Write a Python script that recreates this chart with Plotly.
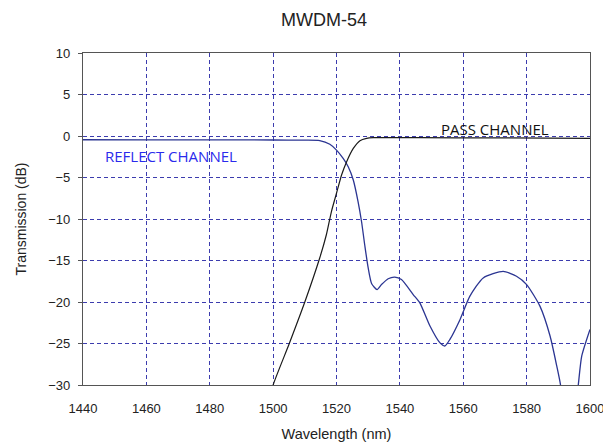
import plotly.graph_objects as go

# ---- data ----
wl_reflect = [1440, 1460, 1480, 1500, 1510, 1514.7, 1517.9, 1520, 1522.1, 1523.7, 1525.3,
              1526.8, 1527.9, 1528.9, 1530, 1531.1, 1532.8, 1534.2, 1536.3, 1538.4,
              1540.5, 1544.2, 1546.3, 1549.5, 1552.6, 1554.2, 1555.8, 1559, 1562.1,
              1566.3, 1572.6, 1576.8, 1580, 1584.2, 1587.4, 1589.5, 1590.7, 1593.5,
              1596.3, 1597.4, 1600]
reflect_db = [-0.45, -0.46, -0.47, -0.48, -0.5, -0.55, -1.0, -1.7, -2.7, -3.7, -5.3,
              -7.9, -10.3, -13.1, -15.9, -17.8, -18.5, -17.9, -17.2, -17.0,
              -17.3, -19.1, -20.1, -22.9, -24.9, -25.3, -24.5, -22.1, -19.3,
              -17.1, -16.3, -16.9, -17.9, -20.5, -24.1, -27.7, -30.0, -40.0,
              -30.0, -26.5, -23.3]

wl_pass = [1499.5, 1500, 1505.1, 1510, 1514.7, 1516.8, 1518.4, 1520, 1521.6, 1523.2,
           1525.3, 1527.4, 1529.5, 1531.6, 1546.3, 1570, 1600]
pass_db = [-31.0, -30.0, -25.0, -20.0, -14.7, -11.9, -9.1, -6.9, -4.7, -3.1,
           -1.5, -0.56, -0.28, -0.2, -0.2, -0.23, -0.28]

x_ticks = [1440, 1460, 1480, 1500, 1520, 1540, 1560, 1580, 1600]
y_ticks = [10, 5, 0, -5, -10, -15, -20, -25, -30]

title_text = "MWDM-54"
x_title = "Wavelength (nm)"
y_title = "Transmission (dB)"
reflect_label = "REFLECT CHANNEL"
pass_label = "PASS CHANNEL"

# the page body has an 8px margin, so the figure is sized/offset to compensate
W, H, OFF = 603, 435, 8

fig = go.Figure()
fig.add_trace(go.Scatter(x=wl_reflect, y=reflect_db, mode="lines",
                         line=dict(color="#2b3592", width=1.3, shape="spline", smoothing=0.6),
                         showlegend=False, hoverinfo="skip"))
fig.add_trace(go.Scatter(x=wl_pass, y=pass_db, mode="lines",
                         line=dict(color="#1a1a1a", width=1.2, shape="spline", smoothing=0.6),
                         showlegend=False, hoverinfo="skip"))

fig.add_annotation(x=1446.3, y=-2.4, text=reflect_label, showarrow=False,
                   xanchor="left", yanchor="middle",
                   font=dict(family="Open Sans", size=15, color="#2a2aec"))
fig.add_annotation(x=1552.3, y=0.9, text=pass_label, showarrow=False,
                   xanchor="left", yanchor="middle",
                   font=dict(family="Open Sans", size=15, color="#111111"))

grid_col = "#3c3cae"
fig.update_layout(
    width=W, height=H,
    margin=dict(l=83 - OFF, r=21, t=53 - OFF, b=58, autoexpand=False),
    paper_bgcolor="white", plot_bgcolor="white",
    title=dict(text=title_text, x=(324 - OFF) / W, xref="container", xanchor="center",
               y=1 - (20 - OFF) / H, yref="container", yanchor="middle",
               font=dict(family="Liberation Sans, Arial", size=18, color="#222")),
    font=dict(family="Liberation Sans, Arial", size=13, color="#222"),
)
fig.update_xaxes(range=[1440, 1600], tickvals=x_ticks, ticks="", automargin=False,
                 showgrid=True, gridcolor=grid_col, griddash="4px,3px", gridwidth=1,
                 zeroline=False, showline=True, linecolor="#555", linewidth=1.2, mirror=True,
                 tickfont=dict(size=13), ticklabelstandoff=11,
                 title=dict(text=x_title, font=dict(size=14.5), standoff=14))
fig.update_yaxes(range=[-30, 10], tickvals=y_ticks, ticks="outside", ticklen=4,
                 tickcolor="#555", automargin=False,
                 showgrid=True, gridcolor=grid_col, griddash="4px,3px", gridwidth=1,
                 zeroline=False, showline=True, linecolor="#555", linewidth=1.2, mirror=True,
                 tickfont=dict(size=13), ticklabelstandoff=5,
                 title=dict(text=y_title, font=dict(size=14), standoff=18))

fig.write_html("out.html")
